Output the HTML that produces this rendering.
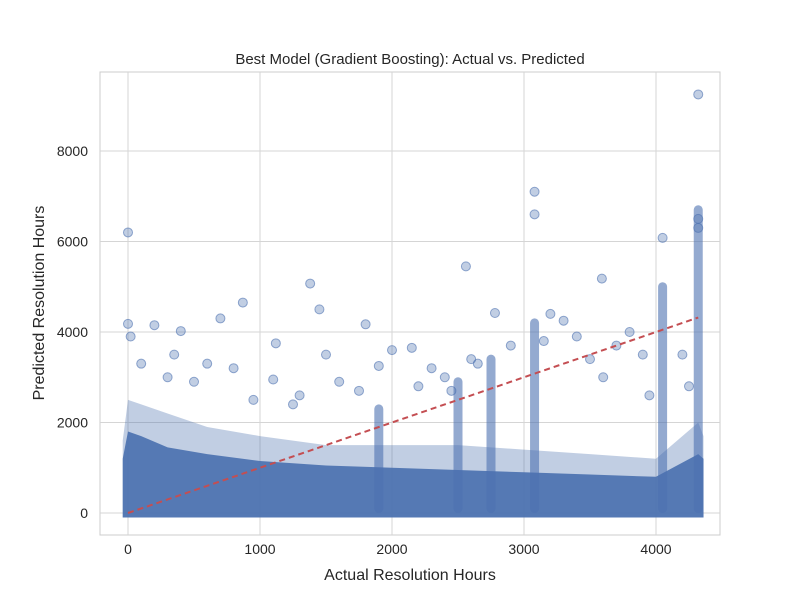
<!DOCTYPE html>
<html><head><meta charset="utf-8"><style>
body{margin:0;background:#fff;font-family:"Liberation Sans",sans-serif}
text{font-family:"Liberation Sans",sans-serif;fill:#262626}
</style></head><body>
<svg id="chart" width="800" height="600">
<rect x="100" y="72" width="620" height="463" fill="#fff" stroke="#cccccc"/>
<g id="grid"></g><g id="marks"></g><g id="ticks"></g>
<text x="410" y="64" text-anchor="middle" font-size="15">Best Model (Gradient Boosting): Actual vs. Predicted</text>
<text x="410" y="580" text-anchor="middle" font-size="16">Actual Resolution Hours</text>
<text x="44" y="303" text-anchor="middle" font-size="16" transform="rotate(-90 44 303)">Predicted Resolution Hours</text>
</svg>
<script>
const xTicks=[0,1000,2000,3000,4000];
const yTicks=[0,2000,4000,6000,8000];
const envX=[-40,0,100,300,600,1000,1500,2000,2500,3000,3500,4000,4320,4360];
const envInner=[1200,1800,1700,1450,1300,1150,1050,1000,950,900,850,800,1300,1200];
const envOuter=[1600,2500,2400,2200,1900,1700,1500,1500,1500,1400,1300,1200,2000,1700];
const stripX=[1900,2500,2750,3080,4050,4320];
const stripTop=[2400,3000,3500,4300,5100,6800];
const outX=[0,0,20,200,400,700,870,1380,1450,1800,2560,3080,3080,4320,4050,3590,2780,3300,3200,1500,1120,1900,2000,2150,2300,600,350,800,1100,1600,2900,3400,3700,3800,3900,3600,100,300,500,4200,4250,3950,4320,4320,2400,2600,2650,2200,1750,1300,950,3500,3150,2450,1250];
const outY=[6200,4180,3900,4150,4020,4300,4650,5070,4500,4170,5450,7100,6600,9250,6080,5180,4420,4250,4400,3500,3750,3250,3600,3650,3200,3300,3500,3200,2950,2900,3700,3900,3700,4000,3500,3000,3300,3000,2900,3500,2800,2600,6300,6500,3000,3400,3300,2800,2700,2600,2500,3400,3800,2700,2400];
const sx=v=>128+v*0.132, sy=v=>513-v*0.04525;
const NS="http://www.w3.org/2000/svg";
const g=document.getElementById('grid'),m=document.getElementById('marks'),t=document.getElementById('ticks');
function el(p,tag,a){const e=document.createElementNS(NS,tag);for(const k in a)e.setAttribute(k,a[k]);p.appendChild(e);return e;}
xTicks.forEach(v=>{const l=el(g,'line',{x1:sx(v),x2:sx(v),y1:72,y2:535,stroke:'#d5d5d5'});


const tx=el(t,'text',{x:sx(v),y:554,'text-anchor':'middle','font-size':14});tx.textContent=v;

});
yTicks.forEach(v=>{const l=el(g,'line',{x1:100,x2:720,y1:sy(v),y2:sy(v),stroke:'#d5d5d5'});


const tx=el(t,'text',{x:88,y:sy(v)+5,'text-anchor':'end','font-size':14});tx.textContent=v;

});
function poly(top,op,name){let pts=envX.map((x,i)=>sx(x)+','+sy(top[i]));pts.push(sx(envX[envX.length-1])+','+sy(-100),sx(envX[0])+','+sy(-100));
const p=el(m,'polygon',{points:pts.join(' '),fill:'#4c72b0','fill-opacity':op});

}
poly(envOuter,0.35,'dense-fringe');poly(envInner,0.92,'dense-core');
stripX.forEach((x,i)=>{const r=el(m,'rect',{x:sx(x)-4.5,y:sy(stripTop[i]),width:9,height:sy(0)-sy(stripTop[i]),rx:4.5,fill:'#4c72b0','fill-opacity':0.6});

});
outX.forEach((x,i)=>{const c=el(m,'circle',{cx:sx(x),cy:sy(outY[i]),r:4.5,fill:'#4c72b0','fill-opacity':0.35,stroke:'#4c72b0','stroke-opacity':0.6});

});
const ln=el(m,'line',{x1:sx(0),y1:sy(0),x2:sx(4320),y2:sy(4320),stroke:'#c44e52','stroke-width':2,'stroke-dasharray':'6,4'});


</script>
</body></html>
